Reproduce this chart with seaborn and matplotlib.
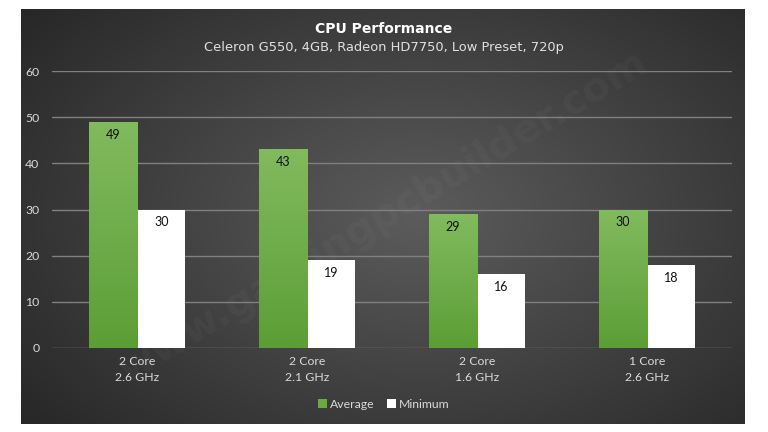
import numpy as np
import pandas as pd
import matplotlib
matplotlib.use("Agg")
import matplotlib.pyplot as plt
import seaborn as sns

# data
configs = ["2 Core\n2.6 GHz", "2 Core\n2.1 GHz", "2 Core\n1.6 GHz", "1 Core\n2.6 GHz"]
average = [49, 43, 29, 30]
minimum = [30, 19, 16, 18]
series = ["Average", "Minimum"]
y_ticks = [0, 10, 20, 30, 40, 50, 60]

df = pd.DataFrame({
    "Config": configs * 2,
    "Series": ["Average"] * len(configs) + ["Minimum"] * len(configs),
    "FPS": average + minimum,
})

sns.set_theme(style="white")
plt.rcParams["font.family"] = ["Lato", "DejaVu Sans"]

fig = plt.figure(figsize=(7.68, 4.32), dpi=100)
fig.patch.set_facecolor("white")

# dark radial gradient panel
bg = fig.add_axes([21 / 768, 1 - 424 / 432, 724 / 768, 415 / 432])
yy, xx = np.mgrid[0:1:300j, 0:1:500j]
r = np.sqrt(((xx - 0.55) / 0.75) ** 2 + ((yy - 0.5) / 0.85) ** 2)
shade = np.clip(0.36 - 0.22 * r, 0.13, 0.36)
bg.imshow(np.dstack([shade] * 3), extent=[0, 1, 0, 1], aspect="auto")
bg.set_axis_off()

# watermark
bg.text(0.5, 0.5, "www.gamingpcbuilder.com", transform=bg.transAxes,
        rotation=31, fontsize=29, fontweight="bold", color="white", alpha=0.03,
        ha="center", va="center", family="DejaVu Sans")

ax = fig.add_axes([52 / 768, 1 - 348 / 432, 680 / 768, 277 / 432])
ax.patch.set_alpha(0)

sns.barplot(data=df, x="Config", y="FPS", hue="Series", hue_order=series,
            palette=["#6aab40", "#ffffff"], width=0.57, gap=0, saturation=1,
            edgecolor="none", ax=ax, zorder=3)

# vertical gradient on the green bars
grad = np.linspace(0, 1, 100).reshape(-1, 1)
top_c = np.array([0.51, 0.73, 0.37])
bot_c = np.array([0.36, 0.62, 0.21])
for patch in ax.patches[:len(configs)]:
    x0, y0 = patch.get_x(), patch.get_y()
    w, h = patch.get_width(), patch.get_height()
    img = top_c * (1 - grad[..., None]) + bot_c * grad[..., None]
    im = ax.imshow(img, extent=[x0, x0 + w, y0, y0 + h], aspect="auto",
                   zorder=3.5)
    im.set_clip_path(patch)

for cont in ax.containers:
    for bar in cont:
        h = bar.get_height()
        ax.text(bar.get_x() + bar.get_width() / 2, h - 1.5, f"{h:.0f}",
                ha="center", va="top", fontsize=9, color="#111111", zorder=5)

ax.set_ylim(0, 60)
ax.set_xlim(-0.5, len(configs) - 0.5)
ax.set_yticks(y_ticks)
ax.grid(axis="y", color="#808080", lw=1, zorder=0)
ax.set_axisbelow(True)
for s in ax.spines.values():
    s.set_visible(False)
ax.tick_params(axis="both", colors="#d9d9d9", labelsize=8.8, length=0, pad=6)
ax.tick_params(axis="y", pad=9)
ax.set_xlabel("")
ax.set_ylabel("")
for lab in ax.get_xticklabels():
    lab.set_linespacing(1.5)

handles, labels = ax.get_legend_handles_labels()
ax.legend(handles, labels, loc="center", bbox_to_anchor=(0.5, 1 - 404 / 432),
          bbox_transform=fig.transFigure, ncol=2, frameon=False, fontsize=8.8,
          labelcolor="#d9d9d9", handlelength=0.7, handleheight=0.7,
          handletextpad=0.3, columnspacing=1.0)

fig.text(0.5, 1 - 29 / 432, "CPU Performance", ha="center", va="center",
         fontsize=10, fontweight="bold", color="white", family="DejaVu Sans")
fig.text(0.5, 1 - 47 / 432, "Celeron G550, 4GB, Radeon HD7750, Low Preset, 720p",
         ha="center", va="center", fontsize=9.4, color="#e0e0e0",
         family="DejaVu Sans")

fig.savefig("out.png", dpi=100)
